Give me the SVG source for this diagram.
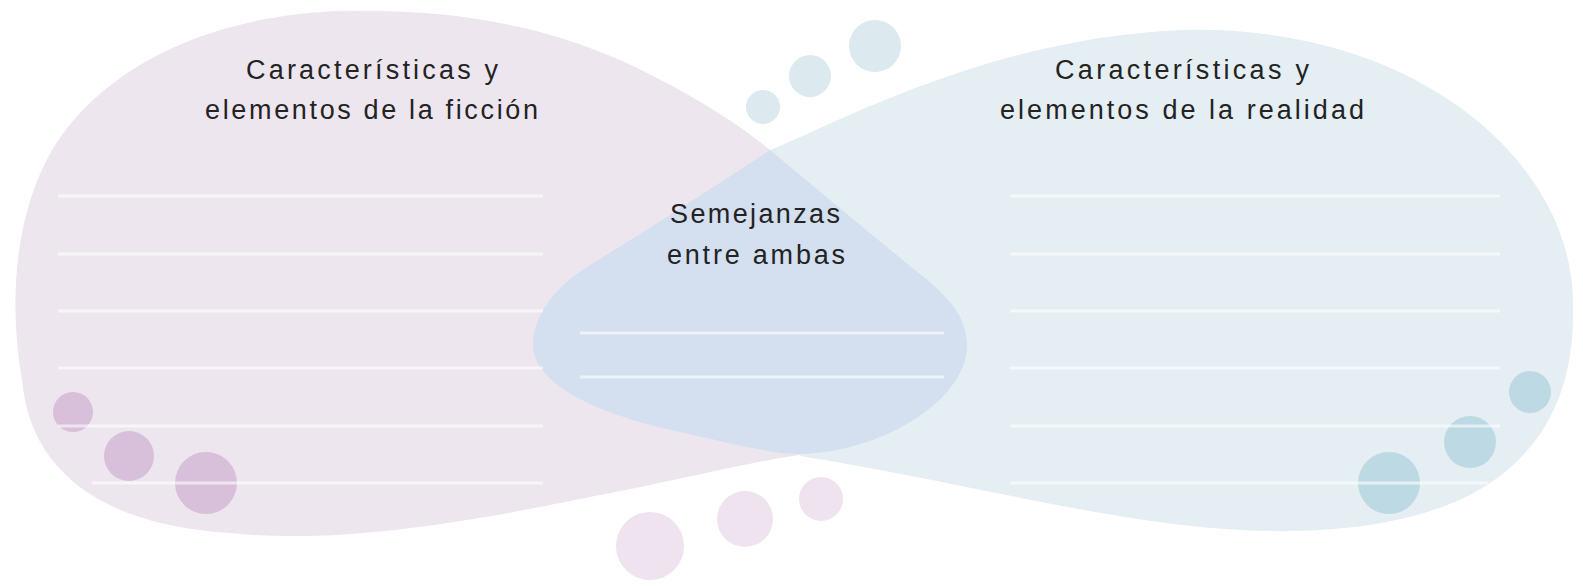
<svg xmlns="http://www.w3.org/2000/svg" width="1583" height="586" viewBox="0 0 1583 586">
<style>
.lbl{font-family:"Liberation Sans","DejaVu Sans",sans-serif;font-size:27px;fill:#232323;}
.ln{stroke:#ffffff;stroke-opacity:0.6;stroke-width:3;fill:none;}
.dotP{fill:#D8BFDA;}
.dotL{fill:#EEE3EE;}
.dotB{fill:#BDD9E4;}
.dotT{fill:#DCE9EE;}
</style>
<rect width="1583" height="586" fill="#ffffff"/>
<g id="node-ficcion">
<path d="M770,150 C740,125 690,92 620,60 C540,25 450,8 340,11 C220,15 110,60 55,145 C15,210 8,300 22,380 C30,470 100,525 230,533 C340,545 480,520 600,495 C680,480 750,462 800,455 C790,350 780,250 770,150 Z" fill="#EEE6EF"/>
</g>
<g id="node-realidad">
<path d="M770,150 C800,138 840,118 885,100 C960,70 1060,35 1183,30 C1300,27 1400,60 1470,115 C1540,170 1575,240 1573,310 C1574,390 1545,455 1470,495 C1400,530 1300,537 1200,527 C1080,515 950,480 800,456 C790,350 780,250 770,150 Z" fill="#E4EEF3"/>
</g>
<g id="node-semejanzas">
<path d="M770,150 C740,170 640,235 590,265 C555,287 533,315 533,345 C533,385 600,415 680,432 C730,443 770,454 800,454 C885,452 967,398 967,346 C967,310 940,290 905,262 C860,225 800,175 770,150 Z" fill="#D4DFEF"/>
</g>
<g id="dots">
<circle class="dotT" cx="763" cy="107" r="17"/>
<circle class="dotT" cx="810" cy="76" r="21"/>
<circle class="dotT" cx="875" cy="46" r="26"/>
<circle class="dotP" cx="73" cy="412" r="20"/>
<circle class="dotP" cx="129" cy="456" r="25"/>
<circle class="dotP" cx="206" cy="483" r="31"/>
<circle class="dotL" cx="650" cy="546" r="34"/>
<circle class="dotL" cx="745" cy="519" r="28"/>
<circle class="dotL" cx="821" cy="499" r="22"/>
<circle class="dotB" cx="1530" cy="392" r="21"/>
<circle class="dotB" cx="1470" cy="442" r="26"/>
<circle class="dotB" cx="1389" cy="483" r="31"/>
</g>
<g id="lines">
<line class="ln" x1="58" y1="196" x2="543" y2="196"/>
<line class="ln" x1="58" y1="254" x2="543" y2="254"/>
<line class="ln" x1="58" y1="311" x2="543" y2="311"/>
<line class="ln" x1="58" y1="368" x2="543" y2="368"/>
<line class="ln" x1="58" y1="426" x2="543" y2="426"/>
<line class="ln" x1="92" y1="483" x2="543" y2="483"/>
<line class="ln" x1="580" y1="333" x2="944" y2="333"/>
<line class="ln" x1="580" y1="377" x2="944" y2="377"/>
<line class="ln" x1="1010" y1="196" x2="1500" y2="196"/>
<line class="ln" x1="1010" y1="254" x2="1500" y2="254"/>
<line class="ln" x1="1010" y1="311" x2="1500" y2="311"/>
<line class="ln" x1="1010" y1="368" x2="1500" y2="368"/>
<line class="ln" x1="1010" y1="426" x2="1500" y2="426"/>
<line class="ln" x1="1010" y1="483" x2="1488" y2="483"/>
</g>
<g id="labels">
<text class="lbl" x="246" y="79" textLength="252" lengthAdjust="spacing">Características y</text>
<text class="lbl" x="205" y="119" textLength="333" lengthAdjust="spacing">elementos de la ficción</text>
<text class="lbl" x="1055" y="79" textLength="254" lengthAdjust="spacing">Características y</text>
<text class="lbl" x="1000" y="119" textLength="364" lengthAdjust="spacing">elementos de la realidad</text>
<text class="lbl" x="670" y="223" textLength="170" lengthAdjust="spacing">Semejanzas</text>
<text class="lbl" x="667" y="264" textLength="178" lengthAdjust="spacing">entre ambas</text>
</g>
</svg>
